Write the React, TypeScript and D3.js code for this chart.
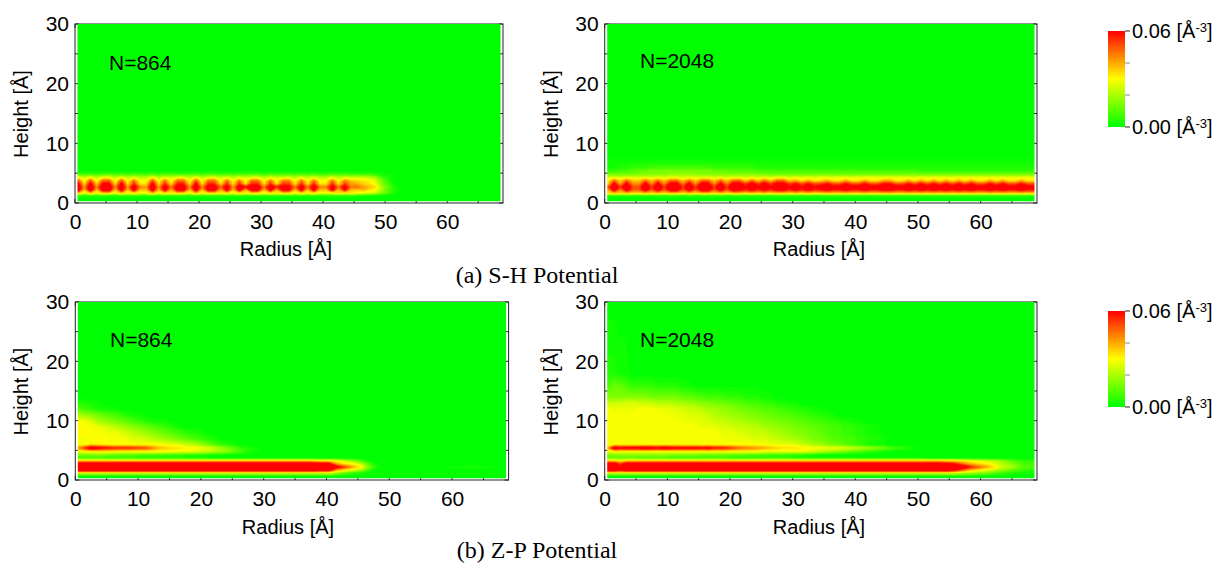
import React, { useEffect, useRef } from "react";
import * as d3 from "d3";

// density, one base-36 digit per 1 A radius bin (0.5, 1.5, ...), unit 0.002 A^-3
// rows go bottom to top, a short row means the rest of it is zero
const heights = [0.6, 1.2, 1.7, 2.2, 2.7, 3.2, 3.7, 4.2, 4.8, 5.4, 6, 7, 8, 9, 10, 11, 12, 13, 14, 16, 18, 30];
const radiusTicks = [0, 10, 20, 30, 40, 50, 60];
const radiusMinor = [5, 15, 25, 35, 45, 55, 65];
const heightTicks = [0, 10, 20, 30];
const heightMinor = [5, 15, 25];
const legendLabels = ["0.06", "0.00"];
const legendTicks = [0, 0.02, 0.04, 0.06];

const shN864 = [
  "",
  "2222222222 2222222222 2222222222 2222222222 2222211100",
  "kekfjjekfi ffkfigiifk fiigifigii figiifififf fifhfedc85 2",
  "yjyjxxjxjw jjxjwkwwjx jwwkwjwkww jwkvvjwjwj jwjvjikhfa 52",
  "zlzmzzmzly nlzlynxxmz mxxoylytxx nyswwnynyn nxnxnoljha 62",
  "whwivvhwhs hhwhshtthv hsshshshss hshrrhshsh hshrlkihe8 41",
  "qfqfppfqfo ffqfofoofq foofofofoo fofnnfofof fofnjihgd7 3",
  "hdhcggchcf cchcfdggch cffdfcfdff cfdeecfcfc cfcedddca5 2",
  "5454554545 4454554455 4554545455 4545545454 4545444431 1",
];

const shN2048 = [
  "",
  "2222222222 2222222222 2222222222 2222222222 2222222222 2222222222 222222222",
  "hkikiikiki kkikikkiki kkikikikki kikijkjjkj jkjjkkjjkj kjkjkjkjkj jkjkjjkjj",
  "kxmxppxpxp xxpxpxxpxp xvsvsvsvvs vsvstvttvt tvttvvttvt vtvtvtvtvt tvtvttvtt",
  "pzrzqqzrzr zzrzrzzrzr zzuzuzuzzu zuzuwzwwzw wzwwzzwwzw zwzwzwzwzw wzwzwwzww",
  "hwlwmmwmwm wwnwmwwmwn wwrwrwrwwr uquqruqquq quqquuqquq uququququq ququqquqq",
  "gpipjjpjpj ppjpjppjpj ppjpjpjppj lhlhilhhlh hlhhllhhlh lhlhlhlhlh hlhlhhlhh",
  "efefeefefe ffefeffefe ffefefeffe fefeffeffe fffffffffe ffffffffff fffffffff",
  "7777788888 9999988888 8888877777 7777777777 7777777777 7777777777 777777777",
  "3344566777 7777777666 5555444444 4444444444 4444444444 3333333333 333333333",
  "1122333444 4444444333 3333222222 2222222222 2222222222 2222222222 222222222",
  "1111111111 1111111111 1111111111 1111111111 1111111111 1111111111 111111111",
];

const zpN864 = [
  "",
  "dddddddddd dddddddddd dddddddddd dddddddddd da75321",
  "zzzzzzzzzz zzzzzzzzzz zzzzzzzzzz zzzzzzzzyx wmifda51",
  "zzzzzzzzzz zzzzzzzzzz zzzzzzzzzz zzzzzzzzzz zxsojg941 0000000000 111221110",
  "zzzzzzzzzz zzzzzzzzzz zzzzzzzzzz zzzzzzzzyx wmigfc62",
  "jjjjjjjjjj jjjjjjjjjj jjjjjjjjjj jjjjjjjjhh hfdb852",
  "4444433333 2222222111 1",
  "7777766555 4444333222 2111",
  "effgggffff ffffffeeed cba9864210",
  "mrzwutsssr qpmjihhggf edb9753211",
  "ffgggfffff ffffeedcba 864321",
  "ffffffffed dcba987654 321",
  "fgfffeedcb a987654322 1",
  "gffedcba98 7654321",
  "feda987654 32111",
  "a987654321 1",
  "5432111",
  "2211",
];

const zpN2048 = [
  "",
  "dddddddddd dddddddddd dddddddddd dddddddddd dddddddddd ddddddcba9 875432211",
  "zzvzzzzzzz zzzzzzzzzz zzzzzzzzzz zzzzzzzzzz zzzzzzzzzz zzzzzxsnjh fdb975433",
  "zzuzzzzzzz zzzzzzzzzz zzzzzzzzzz zzzzzzzzzz zzzzzzzzzz zzzzzzzysp mjgcb9655",
  "yyryyyyyyy yyyyyyyyyy yyyyyyyyyy yyyyyyyyyy yyyyyyyyyy yyyywvrnki hfdb97544",
  "jjgjjjjjjj jjjjjjjjjj jjjjjjjjjj jjjjjjjjjj jjjjjjjjjj jjjjiihgfe dcb975433",
  "6666655555 4444444444 3333333333 2222222222 1111111111 1",
  "7888888888 7777766666 5554443332 2211",
  "efffffffff ffffffffff fffffeeeee eedcba9876 543211",
  "kyvwwwywvx wvvvvuvtts qonmlkjihh hggffeeedc ba98754321",
  "ffffffffff ffffffffff ffffffeeee dcba987654 32111",
  "ffffffffff fffffffffe eeedddccba a987765544 33221",
  "ffffffffff ffffffffee eddcccbaa9 8877654433 2211",
  "ffffffffff fffffeeedd cccbba9988 7766554433 2211",
  "ffffffffff ffeeeddccb baa9988776 6554433221 1",
  "ffffffffff eeedddcbaa 9988776655 4433221",
  "feeeefffee eddccbaa99 8776655443 32211",
  "cccddcccbb baa9988776 6554433221 1",
  "8888888777 7766554443 3322211",
  "4664333322 2211",
  "2211",
];

const panels = [
  { rows: shN864, label: "N=864", left: 75, right: 503, top: 24, bottom: 203, labelX: 109, labelY: 63, radiusX: 286, radiusY: 256 },
  { rows: shN2048, label: "N=2048", left: 604.7, right: 1037, top: 24, bottom: 203, labelX: 640, labelY: 61, radiusX: 819, radiusY: 256 },
  { rows: zpN864, label: "N=864", left: 75.3, right: 508.6, top: 302, bottom: 480, labelX: 110, labelY: 340, radiusX: 288, radiusY: 534 },
  { rows: zpN2048, label: "N=2048", left: 604.7, right: 1037, top: 302, bottom: 480, labelX: 640, labelY: 340, radiusX: 819, radiusY: 534 },
];

const captions = [
  { text: "(a) S-H Potential", y: 283 },
  { text: "(b) Z-P Potential", y: 558 },
];

const nRadius = 69;
const color = d3
  .scaleLinear<string>()
  .domain([0, 0.03, 0.06])
  .range(["#00ff00", "#ffff00", "#ff0000"])
  .clamp(true);
const levels = d3.range(0.001, 0.0605, 0.001);
const sans = "Liberation Sans, Arial, sans-serif";

const parseRows = (rows: string[]) => {
  const values: number[] = [];
  heights.forEach((_, j) => {
    const row = (rows[j] || "").replace(/ /g, "").padEnd(nRadius, "0");
    for (let i = 0; i < nRadius; i++) values.push(parseInt(row[i], 36) * 0.002);
  });
  return values;
};

export default function App() {
  const ref = useRef<SVGSVGElement>(null);

  useEffect(() => {
    const svg = d3.select(ref.current);
    svg.selectAll("*").remove();
    const defs = svg.append("defs");
    defs
      .append("filter")
      .attr("id", "soft")
      .attr("x", "-2%")
      .attr("y", "-2%")
      .attr("width", "104%")
      .attr("height", "104%")
      .append("feGaussianBlur")
      .attr("stdDeviation", 0.7);

    const contours = d3.contours().size([nRadius, heights.length]).thresholds(levels);
    const rowToHeight = d3
      .scaleLinear()
      .domain(heights.map((_, j) => j + 0.5))
      .range(heights);

    panels.forEach((p, idx) => {
      const x = d3.scaleLinear().domain([0, 69]).range([p.left, p.right]);
      const y = d3.scaleLinear().domain([0, 30]).range([p.bottom, p.top]);
      const g = svg.append("g");

      const clipId = `clip${idx}`;
      defs
        .append("clipPath")
        .attr("id", clipId)
        .append("rect")
        .attr("x", x(0.4))
        .attr("y", y(30))
        .attr("width", x(68.6) - x(0.4))
        .attr("height", y(0.3) - y(30));

      // ticks go under the image, only the white strip shows them
      const frame = g.append("g").attr("fill", "none").attr("stroke", "#222");
      frame
        .append("rect")
        .attr("x", p.left)
        .attr("y", p.top)
        .attr("width", p.right - p.left)
        .attr("height", p.bottom - p.top);
      [...radiusTicks, ...radiusMinor].forEach((r) => {
        frame.append("line").attr("x1", x(r)).attr("x2", x(r)).attr("y1", p.bottom).attr("y2", p.bottom - 4);
        frame.append("line").attr("x1", x(r)).attr("x2", x(r)).attr("y1", p.top).attr("y2", p.top + 4);
      });
      [...heightTicks, ...heightMinor].forEach((h) => {
        frame.append("line").attr("x1", p.left).attr("x2", p.left + 4).attr("y1", y(h)).attr("y2", y(h));
        frame.append("line").attr("x1", p.right).attr("x2", p.right - 4).attr("y1", y(h)).attr("y2", y(h));
      });

      const image = g.append("g").attr("clip-path", `url(#${clipId})`);
      const inner = image.append("g").attr("filter", "url(#soft)");
      inner
        .append("rect")
        .attr("x", x(0) - 5)
        .attr("y", y(30) - 5)
        .attr("width", x(69) - x(0) + 10)
        .attr("height", y(0) - y(30) + 10)
        .attr("fill", color(0));

      const path = d3.geoPath(
        d3.geoTransform({
          point(px: number, py: number) {
            (this as any).stream.point(x(px), y(rowToHeight(py)));
          },
        })
      );
      inner
        .selectAll("path")
        .data(contours(parseRows(p.rows)))
        .enter()
        .append("path")
        .attr("d", (d: any) => path(d))
        .attr("fill", (d: any) => color(d.value));

      const xAxis = g
        .append("g")
        .attr("transform", `translate(0,${p.bottom})`)
        .call(d3.axisBottom(x).tickValues(radiusTicks).tickSize(0).tickPadding(11));
      const yAxis = g
        .append("g")
        .attr("transform", `translate(${p.left},0)`)
        .call(d3.axisLeft(y).tickValues(heightTicks).tickSize(0).tickPadding(6));
      [xAxis, yAxis].forEach((a) => {
        a.select(".domain").remove();
        a.selectAll("text").attr("font-family", sans).attr("font-size", 21).attr("fill", "#000");
      });

      g.append("text")
        .attr("x", p.radiusX)
        .attr("y", p.radiusY)
        .attr("text-anchor", "middle")
        .attr("font-family", sans)
        .attr("font-size", 20)
        .text("Radius [Å]");
      g.append("text")
        .attr("transform", `translate(${p.left - 47},${(p.top + p.bottom) / 2 + 0.5}) rotate(-90)`)
        .attr("text-anchor", "middle")
        .attr("font-family", sans)
        .attr("font-size", 20)
        .text("Height [Å]");
      g.append("text")
        .attr("x", p.labelX)
        .attr("y", p.labelY + 7)
        .attr("font-family", sans)
        .attr("font-size", 21)
        .text(p.label);
    });

    // colour bars
    const gradient = defs
      .append("linearGradient")
      .attr("id", "bar")
      .attr("x1", 0)
      .attr("x2", 0)
      .attr("y1", 1)
      .attr("y2", 0);
    [0, 0.03, 0.06].forEach((v) => {
      gradient
        .append("stop")
        .attr("offset", v / 0.06)
        .attr("stop-color", color(v));
    });
    [31, 311].forEach((top) => {
      const g = svg.append("g");
      const scale = d3.scaleLinear().domain([0, 0.06]).range([top + 96, top]);
      g.append("rect")
        .attr("x", 1108)
        .attr("y", top)
        .attr("width", 17)
        .attr("height", 96)
        .attr("fill", "url(#bar)");
      legendTicks.forEach((v) => {
        const major = v === 0 || v === 0.06;
        g.append("line")
          .attr("x1", 1125)
          .attr("x2", 1130)
          .attr("y1", scale(v))
          .attr("y2", scale(v))
          .attr("stroke", major ? "#222" : "#888");
      });
      legendLabels.forEach((label) => {
        const t = g
          .append("text")
          .attr("x", 1132)
          .attr("y", scale(+label) + 7)
          .attr("font-family", sans)
          .attr("font-size", 20)
          .text(`${label} [Å`);
        t.append("tspan").attr("dy", -6).attr("font-size", 13).text("-3");
        t.append("tspan").attr("dy", 6).text("]");
      });
    });

    captions.forEach((c) => {
      svg
        .append("text")
        .attr("x", 537)
        .attr("y", c.y)
        .attr("text-anchor", "middle")
        .attr("font-family", "Liberation Serif, Times New Roman, serif")
        .attr("font-size", 24)
        .text(c.text);
    });
  }, []);

  return (
    <svg
      ref={ref}
      width={1221}
      height={563}
      style={{ position: "absolute", left: 0, top: 0, background: "#fff" }}
    />
  );
}
